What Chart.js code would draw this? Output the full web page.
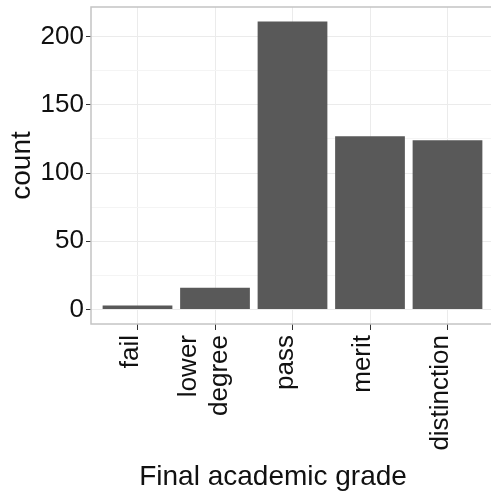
<!DOCTYPE html>
<html>
<head>
<meta charset="utf-8">
<script src="https://cdn.jsdelivr.net/npm/chart.js@4/dist/chart.umd.min.js"></script>
<style>
  html, body { margin: 0; padding: 0; background: #fff; overflow: hidden; }
  #wrap { width: 496px; height: 497px; position: relative; }
</style>
</head>
<body>
<div id="wrap"><canvas id="chart"></canvas></div>
<script>
// DATA
var grades = ['fail', ['lower', 'degree'], 'pass', 'merit', 'distinction'];
var counts = [3, 16, 211, 127, 124];
var yTicks = [0, 25, 50, 75, 100, 125, 150, 175, 200];

var points = counts.map(function (c, i) { return { x: i, y: c }; });

// panel border drawn on top of the bars, like theme_bw
var panelBorder = {
    id: 'panelBorder',
    afterDatasetsDraw: function (chart) {
        var a = chart.chartArea;
        var ctx = chart.ctx;
        ctx.save();
        ctx.strokeStyle = '#c4c4c4';
        ctx.lineWidth = 1.5;
        ctx.strokeRect(a.left, a.top, a.right - a.left, a.bottom - a.top);
        ctx.restore();
    }
};

// pull two-line x labels back so the block sits round its tick
var centerMultiline = {
    id: 'centerMultiline',
    beforeDraw: function (chart) {
        var s = chart.scales.x;
        s.getLabelItems(chart.chartArea).forEach(function (item) {
            if (Array.isArray(item.label) && !item._moved) {
                item.textOffset -= (item.label.length - 1) * item.font.lineHeight / 2 + 3.5;
                item._moved = true;
            }
        });
    }
};

var config = {
    type: 'bar',
    data: {
        datasets: [{
            data: points,
            backgroundColor: '#595959',
            borderWidth: 0,
            barPercentage: 0.9,
            categoryPercentage: 1
        }]
    },
    options: {
        responsive: true,
        maintainAspectRatio: false,
        animation: false,
        layout: { padding: { top: 7, right: 2, left: 0, bottom: 0 } },
        plugins: {
            legend: { display: false },
            tooltip: { enabled: false }
        },
        scales: {
            x: {
                type: 'linear',
                offset: false,
                min: -0.6,
                max: 4.6,
                afterBuildTicks: function (s) {
                    s.ticks = grades.map(function (g, i) { return { value: i }; });
                },
                afterFit: function (s) {
                    s.height = 173;
                    s.paddingLeft = 0;
                    s.paddingRight = 0;
                },
                grid: {
                    offset: false,
                    color: '#ebebeb',
                    lineWidth: 1,
                    tickColor: '#333333',
                    tickLength: 6
                },
                border: { display: false },
                ticks: {
                    minRotation: 90,
                    maxRotation: 90,
                    autoSkip: false,
                    padding: 5,
                    labelOffset: -7,
                    color: '#111',
                    font: { family: 'Liberation Sans', size: 26 },
                    callback: function (v) { return grades[v]; }
                },
                title: {
                    display: true,
                    text: 'Final academic grade     ',
                    color: '#111',
                    font: { family: 'Liberation Sans', size: 28 },
                    padding: { top: 0, bottom: 3 }
                }
            },
            y: {
                min: -10.55,
                max: 221.55,
                afterBuildTicks: function (s) {
                    s.ticks = yTicks.map(function (v) { return { value: v }; });
                },
                afterFit: function (s) {
                    s.width = 91;
                    s.paddingTop = 0;
                    s.paddingBottom = 0;
                },
                grid: {
                    color: function (c) { return c.tick && c.tick.value % 50 ? '#f4f4f4' : '#ebebeb'; },
                    lineWidth: 1,
                    tickColor: function (c) { return c.tick && c.tick.value % 50 ? 'rgba(0,0,0,0)' : '#333333'; },
                    tickLength: 5
                },
                border: { display: false },
                ticks: {
                    padding: 2,
                    color: '#111',
                    font: { family: 'Liberation Sans', size: 26 },
                    callback: function (v) { return v % 50 ? '' : v; }
                },
                title: {
                    display: true,
                    text: 'count',
                    color: '#111',
                    font: { family: 'Liberation Sans', size: 28 },
                    padding: { top: 5, bottom: 0 }
                }
            }
        }
    },
    plugins: [panelBorder, centerMultiline]
};

var chart = new Chart(document.getElementById('chart'), config);
</script>
</body>
</html>
